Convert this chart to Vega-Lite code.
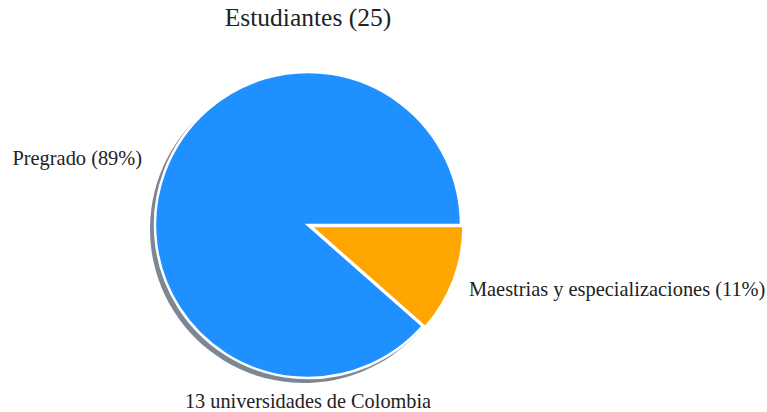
{
  "$schema": "https://vega.github.io/schema/vega-lite/v6.json",
  "autosize": "none",
  "width": 616,
  "height": 374,
  "padding": {"left": 0, "top": 38, "right": 151, "bottom": 0},
  "background": "white",
  "config": {"view": {"stroke": null}, "font": "Liberation Serif"},
  "title": {"text": "Estudiantes (25)", "fontSize": 25.5, "fontWeight": "normal", "font": "Liberation Serif", "color": "#222", "offset": 7, "anchor": "middle"},
  "layer": [
    {
      "data": {"values": [
        {"cat": "Maestrias", "value": 11.5, "label": "Maestrias y especializaciones (11%)"},
        {"cat": "Pregrado", "value": 88.5, "label": "Pregrado (89%)"}
      ]},
      "layer": [
        {
          "mark": {"type": "arc", "radius": 154, "fill": "#5d6878", "opacity": 0.8, "xOffset": -4, "yOffset": 4},
          "encoding": {
            "theta": {"field": "value", "type": "quantitative", "stack": true, "scale": {"range": [1.5708, 7.854]}},
            "order": {"field": "cat"}
          }
        },
        {
          "mark": {"type": "arc", "radius": 153, "stroke": "white", "strokeWidth": 2.5, "xOffset": {"expr": "datum.cat == 'Maestrias' ? 2.5 : 0"}, "yOffset": {"expr": "datum.cat == 'Maestrias' ? 1 : 0"}},
          "encoding": {
            "theta": {"field": "value", "type": "quantitative", "stack": true, "scale": {"range": [1.5708, 7.854]}},
            "order": {"field": "cat"},
            "color": {"field": "cat", "type": "nominal", "legend": null, "scale": {"domain": ["Maestrias", "Pregrado"], "range": ["#FFA500", "#1E90FF"]}}
          }
        },
        {
          "mark": {"type": "text", "radius": 172, "fontSize": 20.4, "color": "#222", "baseline": "middle", "align": {"expr": "datum.cat == 'Pregrado' ? 'right' : 'left'"}, "dx": {"expr": "datum.cat == 'Pregrado' ? -5 : 0"}, "dy": {"expr": "datum.cat == 'Pregrado' ? -5 : 4"}},
          "encoding": {
            "theta": {"field": "value", "type": "quantitative", "stack": true, "scale": {"range": [1.5708, 7.854]}},
            "order": {"field": "cat"},
            "text": {"field": "label"}
          }
        }
      ]
    },
    {
      "data": {"values": [{"t": "13 universidades de Colombia"}]},
      "mark": {"type": "text", "fontSize": 20.3, "color": "#222", "baseline": "middle", "align": "center", "x": {"expr": "width/2"}, "y": {"expr": "height-10"}},
      "encoding": {"text": {"field": "t"}}
    }
  ]
}
